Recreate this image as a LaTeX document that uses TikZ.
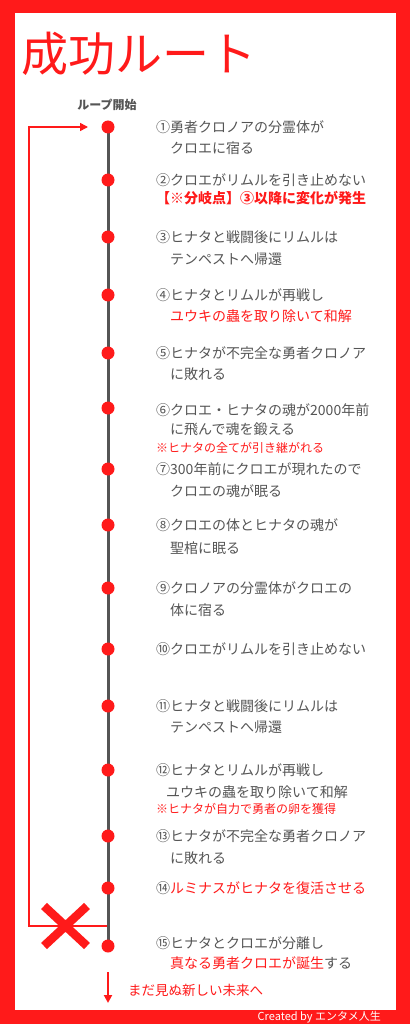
\documentclass[tikz,border=0pt]{standalone}
\usepackage{fontspec}
\newfontfamily\jp{Noto Sans CJK JP}
\usetikzlibrary{arrows.meta}
\definecolor{routered}{HTML}{FF1A1A}
\definecolor{textgray}{HTML}{555555}

\begin{document}
\begin{tikzpicture}[x=1pt, y=-1pt, >={Triangle[length=8pt,width=8pt]},
	every node/.style={inner sep=0pt, font=\jp},
	item/.style={anchor=west, textgray, font=\jp\fontsize{14}{14}\selectfont},
	hot/.style={item, routered},
	note/.style={anchor=west, routered, font=\jp\fontsize{12}{12}\selectfont},
	redline/.style={routered, line width=1.5pt},
	spine/.style={textgray, line width=3pt}]
	\useasboundingbox (0,0) rectangle (410,1024);
	% frame
	\fill[routered] (0,0) rectangle (410,1024);
	\fill[white] (15,13) rectangle (396,1010);
	\node[anchor=base west, routered, font=\jp\fontsize{47}{47}\selectfont] (title) at (21,72) {成功ルート};
	\node[textgray, font=\jp\bfseries\fontsize{12}{12}\selectfont] (start) at (107,105) {ループ開始};
	% time line
	\foreach \i/\y in {1/127, 2/180, 3/237, 4/295, 5/353, 6/408, 7/469, 8/525,
		9/588, 10/649, 11/706, 12/770, 13/836, 14/888, 15/946}
		{\coordinate (d\i) at (108,\y);}
	\coordinate (loopstart) at (108,926);
	\coordinate (loopcorner) at (29,926);
	\coordinate (loopend) at (88,127);
	\draw[redline, ->] (loopstart) -- (loopcorner) |- (loopend);
	\draw[spine] (d1) -- (d15);
	\foreach \i in {1,...,15} {\fill[routered] (d\i) circle (6.5pt);}
	% cross
	\draw[routered, line width=8.5pt] (44,906) -- (87,946) (87,906) -- (44,946);
	% items
	\node[item] (t1) at (156,127) {①勇者クロノアの分霊体が};
	\node[item] (t1b) at (170,148) {クロエに宿る};
	\node[item] (t2) at (156,180) {②クロエがリムルを引き止めない};
	\node[hot, font=\jp\bfseries\fontsize{14}{14}\selectfont] (t2b) at (156,198) {【※分岐点】③以降に変化が発生};
	\node[item] (t3) at (156,237) {③ヒナタと戦闘後にリムルは};
	\node[item] (t3b) at (170,259) {テンペストへ帰還};
	\node[item] (t4) at (156,295) {④ヒナタとリムルが再戦し};
	\node[hot] (t4b) at (170,316) {ユウキの蟲を取り除いて和解};
	\node[item] (t5) at (156,353) {⑤ヒナタが不完全な勇者クロノア};
	\node[item] (t5b) at (170,374) {に敗れる};
	\node[item] (t6) at (156,410) {⑥クロエ・ヒナタの魂が2000年前};
	\node[item] (t6b) at (170,429) {に飛んで魂を鍛える};
	\node[note] (t6c) at (156,448) {※ヒナタの全てが引き継がれる};
	\node[item] (t7) at (156,469) {⑦300年前にクロエが現れたので};
	\node[item] (t7b) at (170,491) {クロエの魂が眠る};
	\node[item] (t8) at (156,525) {⑧クロエの体とヒナタの魂が};
	\node[item] (t8b) at (170,548) {聖棺に眠る};
	\node[item] (t9) at (156,588) {⑨クロノアの分霊体がクロエの};
	\node[item] (t9b) at (170,610) {体に宿る};
	\node[item] (t10) at (156,649) {⑩クロエがリムルを引き止めない};
	\node[item] (t11) at (156,706) {⑪ヒナタと戦闘後にリムルは};
	\node[item] (t11b) at (170,727) {テンペストへ帰還};
	\node[item] (t12) at (156,770) {⑫ヒナタとリムルが再戦し};
	\node[item] (t12b) at (166,792) {ユウキの蟲を取り除いて和解};
	\node[note] (t12c) at (156,809) {※ヒナタが自力で勇者の卵を獲得};
	\node[item] (t13) at (156,836) {⑬ヒナタが不完全な勇者クロノア};
	\node[item] (t13b) at (170,858) {に敗れる};
	\node[item] (t14) at (156,888) {⑭\textcolor{routered}{ルミナスがヒナタを復活させる}};
	\node[item] (t15) at (156,943) {⑮ヒナタとクロエが分離し};
	\node[item] (t15b) at (170,963) {\textcolor{routered}{真なる勇者クロエが誕生}する};
	% future
	\coordinate (futuretop) at (108,972);
	\coordinate (futuretip) at (108,1003);
	\draw[routered, line width=2pt, ->] (futuretop) -- (futuretip);
	\node[anchor=west, routered, font=\jp\fontsize{13.5}{13.5}\selectfont] (future) at (128,990) {まだ見ぬ新しい未来へ};
	\node[anchor=east, white, font=\jp\fontsize{11}{11}\selectfont] (credit) at (381,1017) {Created by エンタメ人生};
\end{tikzpicture}
\end{document}
